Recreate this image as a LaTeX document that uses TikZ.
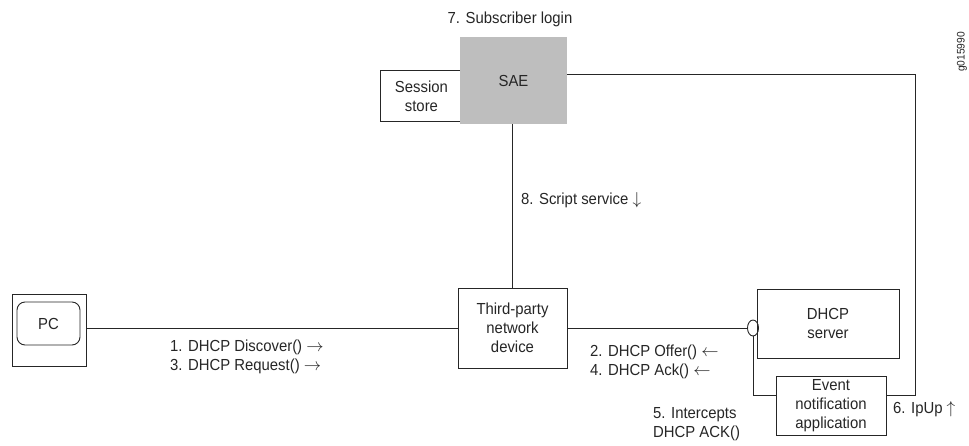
\documentclass[tikz,border=0pt]{standalone}
\usepackage{fontspec}
\setmainfont{Liberation Sans}[FakeStretch=0.93]
\usetikzlibrary{positioning, calc, shapes.geometric}
\definecolor{ink}{HTML}{262626}
\definecolor{saefill}{HTML}{BEBEBE}

\begin{document}
\begin{tikzpicture}[
  x=1pt, y=-1pt,
  every node/.style={font=\fontsize{16}{19}\selectfont, text=ink},
  box/.style={draw=ink, line width=0.9pt, fill=white, align=center, inner sep=0pt},
  wire/.style={draw=ink, line width=0.9pt},
  lbl/.style={align=left, inner sep=0pt}
]
\useasboundingbox (0,0) rectangle (969,445);

% SAE with the session store tucked behind it
\node[box, minimum width=82, minimum height=51, anchor=north west] (store) at (380,70) {Session\\store};
\node[box, fill=saefill, draw=none, minimum width=107, minimum height=87] (sae) at (513.5,80.5) {SAE};
\node[above=10pt of sae, inner sep=0pt, xshift=-3.5pt] (login) {7. Subscriber login};

% access side
\node[box, minimum width=74, minimum height=72] (pc) at (49,330) {};
\node[box, rounded corners=8pt, minimum width=63, minimum height=43] (screen) at (48.5,323.5) {PC};
\node[box, minimum width=109, minimum height=80] (tpd) at (512.5,328) {Third-party\\network\\device};

% server side
\node[box, minimum width=142, minimum height=69] (dhcp) at (828,323.5) {DHCP\\server};
\node[box, minimum width=110, minimum height=59] (ev) at (831,405.5) {Event\\notification\\application};
\node[draw=ink, line width=0.9pt, ellipse, inner sep=0pt, minimum width=11, minimum height=16] (tap) at (753,328) {};

\coordinate (sae-r) at (915,74);
\coordinate (ev-r) at (915,395);

% links
\draw[wire] (sae.east |- sae-r) -- (sae-r) -- (ev-r) -- (ev.east |- ev-r);
\draw[wire] (tpd.north |- sae.south) -- (tpd.north);
\draw[wire] (pc.east |- tpd.west) -- (tpd.west);
\draw[wire] (tpd.east) -- (tap.west);
\draw[wire] (tap.south) |- (ev.west |- ev-r);

% message labels
\node[lbl, anchor=base west] (script) at (521,204) {8. Script service $\downarrow$};
\node[lbl, anchor=north west] (discover) at (170,340) {1. DHCP Discover() $\rightarrow$\\3. DHCP Request() $\rightarrow$};
\node[lbl, anchor=north west] (offer) at (590,345) {2. DHCP Offer() $\leftarrow$\\4. DHCP Ack() $\leftarrow$};
\node[lbl, anchor=north west] (intercept) at (653,407) {5. Intercepts\\DHCP ACK()};
\node[lbl, anchor=base west] (ipup) at (893,413) {6. IpUp $\uparrow$};

\node[inner sep=0pt, rotate=90, font=\fontsize{11}{13}\selectfont] (figid) at (962,52) {g015990};
\end{tikzpicture}
\end{document}
